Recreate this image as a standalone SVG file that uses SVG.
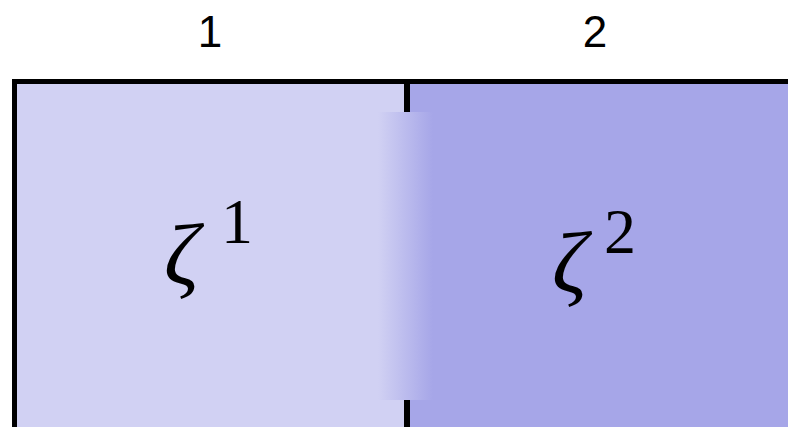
<svg xmlns="http://www.w3.org/2000/svg" width="788" height="427" viewBox="0 0 788 427">
<defs>
<linearGradient id="blend" x1="0" y1="0" x2="1" y2="0">
<stop offset="0" stop-color="#d1d1f3"/>
<stop offset="1" stop-color="#a6a6e8"/>
</linearGradient>
<style>
.lbl{font-family:"Liberation Sans",Arial,sans-serif;font-size:44px;fill:#000;text-anchor:middle}
.z{font-family:"Liberation Serif","DejaVu Serif",serif;font-style:italic;font-size:87px;fill:#000}
.sup{font-family:"Liberation Serif","DejaVu Serif",serif;font-size:64px;fill:#000}
.edge{stroke:#000;stroke-width:5;fill:none}
</style>
</defs>
<g id="region1">
<rect x="14" y="82" width="393" height="345" fill="#d1d1f3"/>
<text class="z" x="164" y="284">ζ</text>
<text class="sup" x="221" y="243">1</text>
</g>
<g id="region2">
<rect x="407" y="82" width="381" height="345" fill="#a6a6e8"/>
<text class="z" x="552" y="292">ζ</text>
<text class="sup" x="604" y="253">2</text>
</g>
<rect x="378" y="112" width="55" height="288" fill="url(#blend)"/>
<g id="labels">
<text class="lbl" x="210" y="47">1</text>
<text class="lbl" x="595" y="47">2</text>
</g>
<g id="connectors">
<path class="edge" d="M14.5 427 V81.5 H788"/>
<path d="M407 84 V112 M407 400 V427" stroke="#000" stroke-width="6"/>
</g>
</svg>
